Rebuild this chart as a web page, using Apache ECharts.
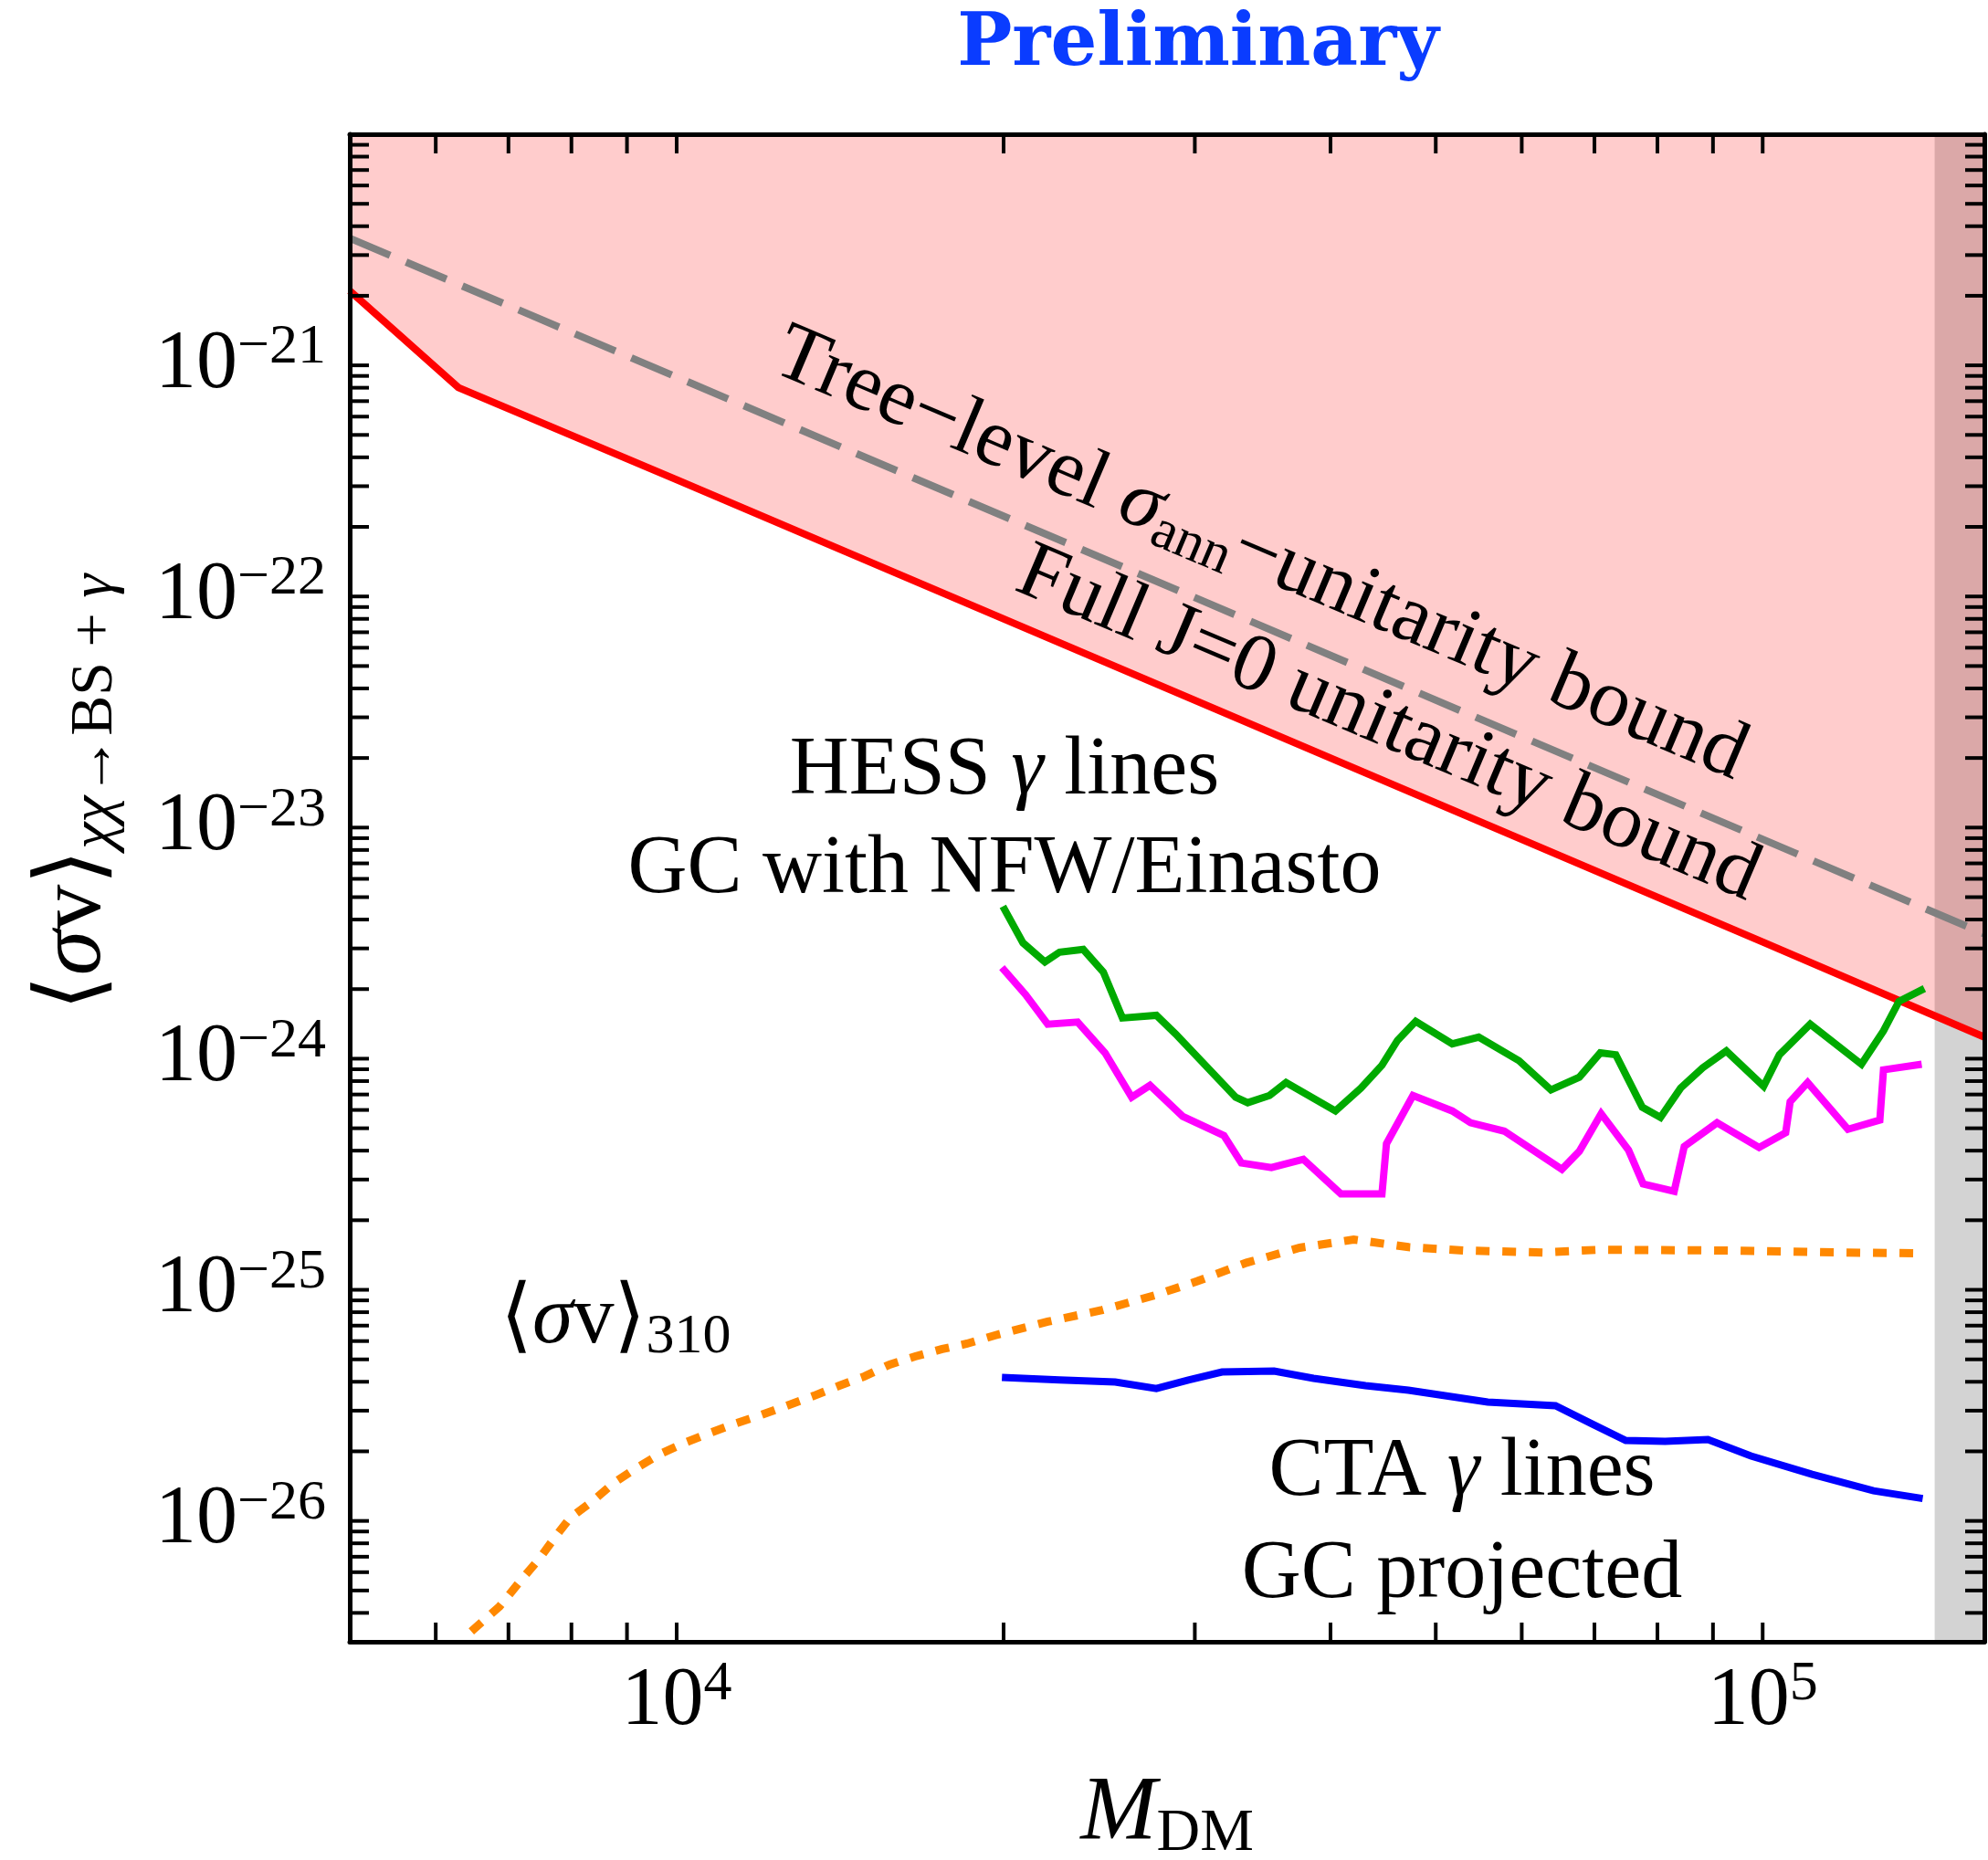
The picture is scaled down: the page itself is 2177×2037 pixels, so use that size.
<!DOCTYPE html>
<html>
<head>
  <meta charset="utf-8">
  <title>Unitarity bounds and gamma-line limits</title>
  <script src="https://cdn.jsdelivr.net/npm/echarts@6/dist/echarts.min.js"></script>
  <style>
    html, body { margin: 0; background: #fff; }
    #main { width: 2177px; height: 2037px; }
  </style>
</head>
<body>
<div id="main"></div>
<script>
  // M_DM in GeV, <sigma v> in cm^3/s
  var xMin = 5000, xMax = 160000;
  var yMin = 3e-27, yMax = 1e-20;
  var bandStart = 144000;            // grey band on the right

  // full J=0 unitarity bound (red, pink region above it)
  var massJ0 = [5000, 6300, 10000, 100000, 160000];
  var sigmaJ0 = [2.1e-21, 8.0e-22, 3.2e-22, 3.2e-24, 1.24e-24];

  // tree-level unitarity bound (grey dashed)
  var massTree = [5000, 10000, 100000, 160000];
  var sigmaTree = [3.55e-21, 8.9e-22, 8.9e-24, 3.47e-24];

  // HESS gamma lines (green)
  var massHessA = [19970, 20840, 21830, 22520, 23680, 24710, 25730, 27650, 28800, 32720, 33560, 35150, 36400,
    40420, 42660, 44610, 46100, 47920, 51780, 54770, 59650, 63830, 67800, 70870, 73240, 77470, 80520, 84030,
    88030, 92580, 100200, 103600, 110600, 123300, 129200, 133500, 140900];
  var sigmaHessA = [4.56e-24, 3.17e-24, 2.62e-24, 2.89e-24, 2.97e-24, 2.37e-24, 1.50e-24, 1.54e-24, 1.28e-24,
    6.81e-25, 6.45e-25, 6.93e-25, 7.88e-25, 5.94e-25, 7.46e-25, 9.37e-25, 1.20e-24, 1.45e-24, 1.16e-24, 1.24e-24,
    9.80e-25, 7.33e-25, 8.32e-25, 1.06e-24, 1.04e-24, 6.17e-25, 5.57e-25, 7.46e-25, 9.12e-25, 1.08e-24, 7.60e-25,
    1.04e-24, 1.41e-24, 9.46e-25, 1.32e-24, 1.77e-24, 2.01e-24];

  // HESS gamma lines (magenta)
  var massHessB = [19930, 20960, 21960, 23400, 24800, 26240, 27280, 29240, 31910, 33110, 35290, 37760, 40890,
    44610, 45040, 47640, 51780, 53830, 57820, 65330, 67800, 71000, 75250, 77610, 82890, 84680, 90780, 99240,
    105000, 106000, 110000, 119800, 128200, 129200, 140100];
  var sigmaHessB = [2.48e-24, 1.89e-24, 1.41e-24, 1.44e-24, 1.06e-24, 6.81e-25, 7.67e-25, 5.63e-25, 4.65e-25,
    3.54e-25, 3.38e-25, 3.67e-25, 2.60e-25, 2.60e-25, 4.29e-25, 6.93e-25, 5.94e-25, 5.28e-25, 4.86e-25, 3.32e-25,
    3.98e-25, 5.78e-25, 4.02e-25, 2.87e-25, 2.67e-25, 4.17e-25, 5.28e-25, 4.13e-25, 4.78e-25, 6.51e-25, 7.88e-25,
    4.95e-25, 5.43e-25, 8.95e-25, 9.46e-25];

  // <sigma v>_310 (orange dotted)
  var mass310 = [6470, 6869, 7168, 7480, 7739, 7975, 8354, 8752, 9193, 9660, 10200, 10720, 11300, 11980, 12630,
    13380, 14120, 14890, 15710, 16580, 17560, 18510, 19630, 21960, 24660, 27540, 30170, 33480, 37470, 42010,
    47190, 52990, 62710, 70590, 91500, 118600, 138500];
  var sigma310 = [3.33e-27, 4.26e-27, 5.45e-27, 6.90e-27, 8.59e-27, 1.03e-26, 1.21e-26, 1.46e-26, 1.70e-26,
    1.95e-26, 2.19e-26, 2.40e-26, 2.63e-26, 2.88e-26, 3.15e-26, 3.48e-26, 3.85e-26, 4.22e-26, 4.75e-26, 5.15e-26,
    5.54e-26, 5.85e-26, 6.35e-26, 7.28e-26, 8.18e-26, 9.46e-26, 1.09e-25, 1.31e-25, 1.52e-25, 1.65e-25, 1.53e-25,
    1.48e-25, 1.45e-25, 1.49e-25, 1.48e-25, 1.45e-25, 1.44e-25];

  // CTA projection (blue)
  var massCta = [19930, 22520, 25340, 27650, 29590, 31780, 35490, 38580, 43080, 47190, 55830, 64450, 69630,
    74800, 81320, 89040, 97540, 111050, 126500, 140400];
  var sigmaCta = [4.18e-26, 4.07e-26, 3.99e-26, 3.74e-26, 4.07e-26, 4.41e-26, 4.45e-26, 4.14e-26, 3.85e-26,
    3.68e-26, 3.27e-26, 3.15e-26, 2.63e-26, 2.23e-26, 2.21e-26, 2.25e-26, 1.91e-26, 1.59e-26, 1.35e-26, 1.25e-26];

  // ticks
  var xTicks = [6000, 7000, 8000, 9000, 10000, 20000, 30000, 40000, 50000, 60000, 70000, 80000, 90000, 100000];
  var yMantissas = [1, 2, 3, 4, 5, 6, 7, 8, 9];
  var yDecades = [-27, -26, -25, -24, -23, -22, -21];
  var xLabelExps = [4, 5];
  var yLabelExps = [-26, -25, -24, -23, -22, -21];

  // the y axis works in units of 1e-27 (ECharts rounds tiny log ticks to 0)
  var Y_UNIT = 1e27;
  function pts(m, s) {
    return m.map(function (v, i) { return [v, s[i] * Y_UNIT]; });
  }

  var yTicks = [];
  yDecades.forEach(function (d) {
    yMantissas.forEach(function (k) {
      var v = k * Math.pow(10, d);
      if (v > yMin * 1.001 && v < yMax * 0.999) yTicks.push(v);
    });
  });

  var serif = 'Liberation Serif';
  var MINUS = '\u2212';

  function expLabel(exps, shift) {
    return function (v) {
      var l = Math.log10(v), e = Math.round(l);
      if (Math.abs(l - e) > 1e-6) return '';
      e = e + shift;
      if (exps.indexOf(e) < 0) return '';
      return '{b|10}{s|' + (e < 0 ? MINUS + (-e) : e) + '}';
    };
  }
  var labelRich = {
    b: { fontFamily: serif, fontSize: 90, lineHeight: 100, color: '#000' },
    s: { fontFamily: serif, fontSize: 62, verticalAlign: 'top', color: '#000' }
  };

  function tickSeries(side, values) {
    var len = 21;
    var d = { bottom: [0, -len], top: [0, len], left: [len, 0], right: [-len, 0] }[side];
    return {
      type: 'custom', silent: true, z: 6, clip: false,
      data: values.map(function (v) {
        if (side === 'bottom') return [v, yMin * Y_UNIT];
        if (side === 'top') return [v, yMax * Y_UNIT];
        if (side === 'left') return [xMin, v * Y_UNIT];
        return [xMax, v * Y_UNIT];
      }),
      renderItem: function (params, api) {
        var p = api.coord([api.value(0), api.value(1)]);
        return {
          type: 'line',
          shape: { x1: p[0], y1: p[1], x2: p[0] + d[0], y2: p[1] + d[1] },
          style: { stroke: '#000', lineWidth: 4 }
        };
      }
    };
  }

  function curve(data, color, width, dash, z) {
    return {
      type: 'line', data: data, showSymbol: false, symbol: 'none', silent: true, z: z || 4,
      lineStyle: { color: color, width: width, type: dash || 'solid', cap: 'butt', join: 'miter' }
    };
  }

  var txtRich = {
    n: { fontFamily: serif, fontSize: 90, lineHeight: 100, fill: '#000' },
    i: { fontFamily: serif, fontSize: 90, lineHeight: 100, fontStyle: 'italic', fill: '#000' },
    sub: { fontFamily: serif, fontSize: 62, verticalAlign: 'bottom', fill: '#000' },
    subi: { fontFamily: serif, fontSize: 62, verticalAlign: 'bottom', fontStyle: 'italic', fill: '#000' }
  };
  var titleRich = {
    n: { fontFamily: serif, fontSize: 100, lineHeight: 110, fill: '#000' },
    i: { fontFamily: serif, fontSize: 100, lineHeight: 110, fontStyle: 'italic', fill: '#000' },
    sub: { fontFamily: serif, fontSize: 66, verticalAlign: 'bottom', fill: '#000' },
    subi: { fontFamily: serif, fontSize: 66, verticalAlign: 'bottom', fontStyle: 'italic', fill: '#000' }
  };
  function note(text, x, y, rich, rot, align) {
    return {
      type: 'text', x: x, y: y, rotation: rot || 0, z: 20, silent: true,
      style: {
        text: text, rich: rich, textAlign: align || 'center', textVerticalAlign: 'middle',
        align: align || 'center', verticalAlign: 'middle',
        fontFamily: serif, fontSize: 90, fill: '#000'
      }
    };
  }
  var slope = -23 * Math.PI / 180;

  var chart = echarts.init(document.getElementById('main'));
  chart.setOption({
    animation: false,
    backgroundColor: '#fff',
    grid: { left: 383, right: 4, top: 147, bottom: 239 },
    xAxis: [{
      type: 'log', logBase: 10, min: xMin, max: xMax, position: 'bottom', z: 10,
      axisLine: { show: true, lineStyle: { color: '#000', width: 5 } },
      axisTick: { show: false }, splitLine: { show: false },
      axisLabel: {
        interval: 0, showMinLabel: false, showMaxLabel: false, margin: 16,
        formatter: expLabel(xLabelExps, 0), rich: labelRich
      }
    }, {
      type: 'log', logBase: 10, min: xMin, max: xMax, position: 'top', z: 10,
      axisLine: { show: true, lineStyle: { color: '#000', width: 5 } },
      axisTick: { show: false }, splitLine: { show: false }, axisLabel: { show: false }
    }],
    yAxis: [{
      type: 'log', logBase: 10, min: yMin * Y_UNIT, max: yMax * Y_UNIT, position: 'left', z: 10,
      axisLine: { show: true, lineStyle: { color: '#000', width: 5 } },
      axisTick: { show: false }, splitLine: { show: false },
      axisLabel: {
        interval: 0, showMinLabel: false, showMaxLabel: false, margin: 26,
        formatter: expLabel(yLabelExps, -27), rich: labelRich
      }
    }, {
      type: 'log', logBase: 10, min: yMin * Y_UNIT, max: yMax * Y_UNIT, position: 'right', z: 10,
      axisLine: { show: true, lineStyle: { color: '#000', width: 5 } },
      axisTick: { show: false }, splitLine: { show: false }, axisLabel: { show: false }
    }],
    series: [
      {
        type: 'line', data: pts([bandStart, xMax], [yMax, yMax]), showSymbol: false, symbol: 'none', z: 1,
        silent: true, lineStyle: { width: 0 },
        areaStyle: { color: '#d3d3d3', opacity: 1, origin: 'start' }
      },
      {
        type: 'line', data: pts(massJ0, sigmaJ0), showSymbol: false, symbol: 'none', z: 2, silent: true,
        lineStyle: { color: '#ff0000', width: 8 },
        areaStyle: { color: 'rgba(255,0,0,0.2)', opacity: 1, origin: 'end' }
      },
      curve(pts(massTree, sigmaTree), '#808080', 8, [48, 19], 3),
      curve(pts(massHessA, sigmaHessA), '#00aa00', 8),
      curve(pts(massHessB, sigmaHessB), '#ff00ff', 8),
      curve(pts(mass310, sigma310), '#ff8800', 9, [15, 14]),
      curve(pts(massCta, sigmaCta), '#0000ff', 8),
      tickSeries('bottom', xTicks),
      tickSeries('top', xTicks),
      tickSeries('left', yTicks),
      tickSeries('right', yTicks)
    ],
    graphic: [
      {
        type: 'text', x: 1312, y: 50, z: 20, silent: true,
        style: {
          text: 'Preliminary', font: 'bold 80px "DejaVu Serif"', fill: '#0a3cff',
          textAlign: 'center', textVerticalAlign: 'middle', align: 'center', verticalAlign: 'middle'
        }
      },
      note('{n|Tree' + MINUS + 'level }{i|\u03c3}{sub|ann}{n|' + MINUS + 'unitarity bound}', 1380, 608, txtRich, slope),
      note('{n|Full J=0 unitarity bound}', 1520, 794, txtRich, slope),
      note('{n|HESS }{i|\u03b3}{n| lines}', 1100, 845, txtRich),
      note('{n|GC with NFW/Einasto}', 1100, 953, txtRich),
      note('{n|CTA }{i|\u03b3}{n| lines}', 1601, 1613, txtRich),
      note('{n|GC projected}', 1601, 1725, txtRich),
      note('{n|\u27e8}{i|\u03c3}{n|v\u27e9}{sub|310}', 548, 1446, txtRich, 0, 'left'),
      note('{i|M}{sub|DM}', 1278, 1987, titleRich),
      note('{n|\u27e8}{i|\u03c3}{n|v\u27e9}{subi|\u03c7\u03c7}{sub|\u2192BS + }{subi|\u03b3}', 83, 868, titleRich, Math.PI / 2)
    ]
  });
</script>
</body>
</html>
